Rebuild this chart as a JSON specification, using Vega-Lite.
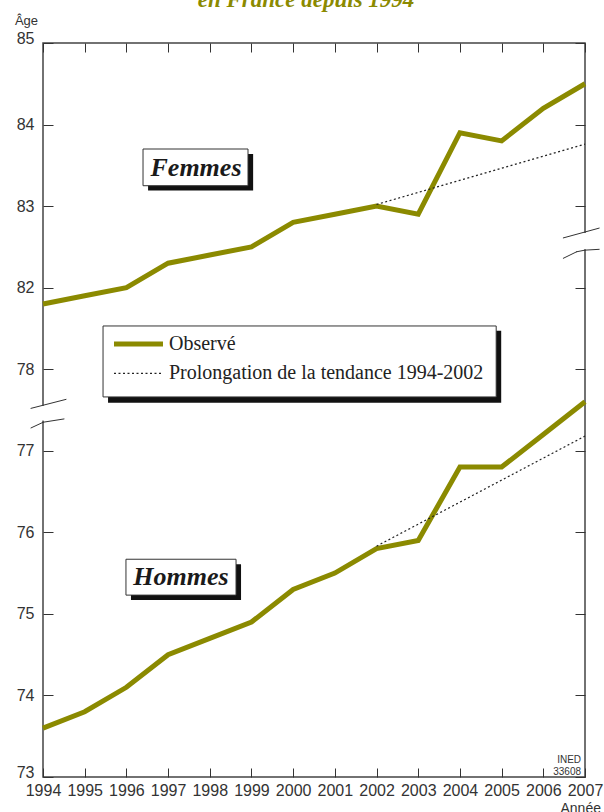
{
  "$schema": "https://vega.github.io/schema/vega-lite/v6.json",
  "width": 542,
  "height": 734,
  "autosize": {"type": "none"},
  "padding": {"left": 43, "top": 43, "right": 19, "bottom": 35},
  "background": "white",
  "config": {
    "view": {"stroke": "#444", "strokeWidth": 1.5},
    "axis": {"grid": false, "domain": false, "tickColor": "#333", "tickWidth": 1, "labelColor": "#333", "labelFont": "Liberation Sans", "labelFontSize": 16, "labelOverlap": false, "labelFlush": false, "titleColor": "#333", "titleFont": "Liberation Sans", "titleFontWeight": "normal"}
  },
  "datasets": {
    "obs": [
      {"annee": 1994, "sexe": "Femmes", "age": 81.8},
      {"annee": 1995, "sexe": "Femmes", "age": 81.9},
      {"annee": 1996, "sexe": "Femmes", "age": 82.0},
      {"annee": 1997, "sexe": "Femmes", "age": 82.3},
      {"annee": 1998, "sexe": "Femmes", "age": 82.4},
      {"annee": 1999, "sexe": "Femmes", "age": 82.5},
      {"annee": 2000, "sexe": "Femmes", "age": 82.8},
      {"annee": 2001, "sexe": "Femmes", "age": 82.9},
      {"annee": 2002, "sexe": "Femmes", "age": 83.0},
      {"annee": 2003, "sexe": "Femmes", "age": 82.9},
      {"annee": 2004, "sexe": "Femmes", "age": 83.9},
      {"annee": 2005, "sexe": "Femmes", "age": 83.8},
      {"annee": 2006, "sexe": "Femmes", "age": 84.2},
      {"annee": 2007, "sexe": "Femmes", "age": 84.5},
      {"annee": 1994, "sexe": "Hommes", "age": 73.6},
      {"annee": 1995, "sexe": "Hommes", "age": 73.8},
      {"annee": 1996, "sexe": "Hommes", "age": 74.1},
      {"annee": 1997, "sexe": "Hommes", "age": 74.5},
      {"annee": 1998, "sexe": "Hommes", "age": 74.7},
      {"annee": 1999, "sexe": "Hommes", "age": 74.9},
      {"annee": 2000, "sexe": "Hommes", "age": 75.3},
      {"annee": 2001, "sexe": "Hommes", "age": 75.5},
      {"annee": 2002, "sexe": "Hommes", "age": 75.8},
      {"annee": 2003, "sexe": "Hommes", "age": 75.9},
      {"annee": 2004, "sexe": "Hommes", "age": 76.8},
      {"annee": 2005, "sexe": "Hommes", "age": 76.8},
      {"annee": 2006, "sexe": "Hommes", "age": 77.2},
      {"annee": 2007, "sexe": "Hommes", "age": 77.6}
    ],
    "trend": [
      {"annee": 2002, "sexe": "Femmes", "age": 83.02},
      {"annee": 2007, "sexe": "Femmes", "age": 83.76},
      {"annee": 2002, "sexe": "Hommes", "age": 75.83},
      {"annee": 2007, "sexe": "Hommes", "age": 77.18}
    ]
  },
  "layer": [
    {
      "data": {"name": "obs"},
      "mark": {"type": "line", "color": "#8b8a00", "strokeWidth": 5, "clip": false},
      "encoding": {
        "x": {"field": "annee", "type": "quantitative",
          "scale": {"type": "linear", "domain": [1994, 2007], "nice": false, "zero": false},
          "axis": {"orient": "bottom", "values": [1994,1995,1996,1997,1998,1999,2000,2001,2002,2003,2004,2005,2006,2007], "format": "d", "tickSize": -9, "labelPadding": 14,
            "title": "Année", "titleFontSize": 14, "titleAlign": "left", "titleBaseline": "top", "titleX": 517, "titleY": 24}},
        "y": {"field": "age", "type": "quantitative",
          "scale": {"type": "linear", "domain": [73, 78, 81, 85], "range": [734, 326.2, 326.2, 0], "nice": false, "zero": false},
          "axis": {"orient": "left", "values": [73,74,75,76,77,78,82,83,84,85], "tickSize": -10, "labelPadding": 19,
            "labelBaseline": {"condition": {"test": "datum.value == 73 || datum.value == 85", "value": "alphabetic"}, "value": "middle"},
            "title": "Âge", "titleFontSize": 13, "titleAngle": 0, "titleAlign": "center", "titleBaseline": "alphabetic", "titleX": -17, "titleY": -19}},
        "detail": {"field": "sexe"}
      }
    },
    {
      "data": {"name": "trend"},
      "mark": {"type": "line", "color": "#222", "strokeWidth": 1.2, "strokeDash": [2, 2.5], "clip": false},
      "encoding": {
        "x": {"field": "annee", "type": "quantitative",
          "scale": {"type": "linear", "domain": [1994, 2007], "nice": false, "zero": false},
          "axis": {"orient": "top", "values": [1994,1995,1996,1997,1998,1999,2000,2001,2002,2003,2004,2005,2006,2007], "labels": false, "tickSize": -9, "title": null}},
        "y": {"field": "age", "type": "quantitative",
          "scale": {"type": "linear", "domain": [73, 78, 81, 85], "range": [734, 326.2, 326.2, 0], "nice": false, "zero": false},
          "axis": {"orient": "right", "values": [73,74,75,76,77,78,82,83,84,85], "labels": false, "tickSize": -10, "title": null}},
        "detail": {"field": "sexe"}
      }
    },
    {
      "data": {"values": [{}]},
      "mark": {"type": "rect", "color": "white", "clip": false},
      "encoding": {"x": {"datum": 1993.95, "type": "quantitative", "axis": null}, "x2": {"datum": 1994.07}, "y": {"datum": 77.37, "type": "quantitative", "axis": null}, "y2": {"datum": 77.55}}
    },
    {
      "data": {"values": [{}]},
      "mark": {"type": "rect", "color": "white", "clip": false},
      "encoding": {"x": {"datum": 2006.95, "type": "quantitative", "axis": null}, "x2": {"datum": 2007.07}, "y": {"datum": 82.47, "type": "quantitative", "axis": null}, "y2": {"datum": 82.67}}
    },
    {
      "data": {"values": [{}]},
      "mark": {"type": "rule", "color": "#333", "strokeWidth": 1, "strokeCap": "round", "clip": false},
      "encoding": {"x": {"datum": 1993.712, "type": "quantitative", "axis": null}, "x2": {"datum": 1994.552}, "y": {"datum": 77.52, "type": "quantitative", "axis": null}, "y2": {"datum": 77.63}}
    },
    {
      "data": {"values": [{}]},
      "mark": {"type": "rule", "color": "#333", "strokeWidth": 1, "strokeCap": "round", "clip": false},
      "encoding": {"x": {"datum": 1993.712, "type": "quantitative", "axis": null}, "x2": {"datum": 1994.007}, "y": {"datum": 77.28, "type": "quantitative", "axis": null}, "y2": {"datum": 77.35}}
    },
    {
      "data": {"values": [{}]},
      "mark": {"type": "rule", "color": "#333", "strokeWidth": 1, "strokeCap": "round", "clip": false},
      "encoding": {"x": {"datum": 1994.007, "type": "quantitative", "axis": null}, "x2": {"datum": 1994.504}, "y": {"datum": 77.35, "type": "quantitative", "axis": null}, "y2": {"datum": 77.39}}
    },
    {
      "data": {"values": [{}]},
      "mark": {"type": "rule", "color": "#333", "strokeWidth": 1, "strokeCap": "round", "clip": false},
      "encoding": {"x": {"datum": 2006.48, "type": "quantitative", "axis": null}, "x2": {"datum": 2007.34}, "y": {"datum": 82.61, "type": "quantitative", "axis": null}, "y2": {"datum": 82.73}}
    },
    {
      "data": {"values": [{}]},
      "mark": {"type": "rule", "color": "#333", "strokeWidth": 1, "strokeCap": "round", "clip": false},
      "encoding": {"x": {"datum": 2006.48, "type": "quantitative", "axis": null}, "x2": {"datum": 2006.8}, "y": {"datum": 82.36, "type": "quantitative", "axis": null}, "y2": {"datum": 82.44}}
    },
    {
      "data": {"values": [{}]},
      "mark": {"type": "rule", "color": "#333", "strokeWidth": 1, "strokeCap": "round", "clip": false},
      "encoding": {"x": {"datum": 2006.8, "type": "quantitative", "axis": null}, "x2": {"datum": 2007.0}, "y": {"datum": 82.44, "type": "quantitative", "axis": null}, "y2": {"datum": 82.46}}
    },
    {
      "data": {"values": [{}]},
      "mark": {"type": "rule", "color": "#333", "strokeWidth": 1, "strokeCap": "round", "clip": false},
      "encoding": {"x": {"datum": 2007.0, "type": "quantitative", "axis": null}, "x2": {"datum": 2007.34}, "y": {"datum": 82.46, "type": "quantitative", "axis": null}, "y2": {"datum": 82.47}}
    },
    {
      "data": {"values": [{}]},
      "mark": {"type": "rect", "color": "#111", "clip": false},
      "encoding": {"x": {"datum": 1995.56, "type": "quantitative", "axis": null}, "x2": {"datum": 2004.99}, "y": {"datum": 81.47, "type": "quantitative", "axis": null}, "y2": {"datum": 77.59}}
    },
    {
      "data": {"values": [{}]},
      "mark": {"type": "rect", "fill": "white", "stroke": "#333", "strokeWidth": 1, "clip": false},
      "encoding": {"x": {"datum": 1995.44, "type": "quantitative", "axis": null}, "x2": {"datum": 2004.87}, "y": {"datum": 81.53, "type": "quantitative", "axis": null}, "y2": {"datum": 77.66}}
    },
    {
      "data": {"values": [{}]},
      "mark": {"type": "rule", "color": "#8b8a00", "strokeWidth": 5, "clip": false},
      "encoding": {"x": {"datum": 1995.703, "type": "quantitative", "axis": null}, "x2": {"datum": 1996.878}, "y": {"datum": 81.31, "type": "quantitative", "axis": null}}
    },
    {
      "data": {"values": [{}]},
      "mark": {"type": "rule", "color": "#222", "strokeWidth": 1.2, "strokeDash": [2, 2.5], "clip": false},
      "encoding": {"x": {"datum": 1995.703, "type": "quantitative", "axis": null}, "x2": {"datum": 1996.878}, "y": {"datum": 77.95, "type": "quantitative", "axis": null}}
    },
    {
      "data": {"values": [{}]},
      "mark": {"type": "text", "text": "Observé", "font": "Liberation Serif", "fontSize": 20, "color": "#222", "align": "left", "baseline": "middle", "clip": false},
      "encoding": {"x": {"datum": 1997.022, "type": "quantitative", "axis": null}, "y": {"datum": 81.31, "type": "quantitative", "axis": null}}
    },
    {
      "data": {"values": [{}]},
      "mark": {"type": "text", "text": "Prolongation de la tendance 1994-2002", "font": "Liberation Serif", "fontSize": 20, "color": "#222", "align": "left", "baseline": "middle", "clip": false},
      "encoding": {"x": {"datum": 1997.022, "type": "quantitative", "axis": null}, "y": {"datum": 77.95, "type": "quantitative", "axis": null}}
    },
    {
      "data": {"values": [{}]},
      "mark": {"type": "rect", "color": "#111", "clip": false},
      "encoding": {"x": {"datum": 1996.52, "type": "quantitative", "axis": null}, "x2": {"datum": 1999.04}, "y": {"datum": 83.64, "type": "quantitative", "axis": null}, "y2": {"datum": 83.19}}
    },
    {
      "data": {"values": [{}]},
      "mark": {"type": "rect", "fill": "white", "stroke": "#333", "strokeWidth": 1, "clip": false},
      "encoding": {"x": {"datum": 1996.399, "type": "quantitative", "axis": null}, "x2": {"datum": 1998.917}, "y": {"datum": 83.7, "type": "quantitative", "axis": null}, "y2": {"datum": 83.25}}
    },
    {
      "data": {"values": [{}]},
      "mark": {"type": "text", "text": "Femmes", "font": "Liberation Serif", "fontSize": 26, "fontWeight": "bold", "fontStyle": "italic", "color": "#1a1a1a", "align": "center", "baseline": "middle", "clip": false},
      "encoding": {"x": {"datum": 1997.67, "type": "quantitative", "axis": null}, "y": {"datum": 83.47, "type": "quantitative", "axis": null}}
    },
    {
      "data": {"values": [{}]},
      "mark": {"type": "rect", "color": "#111", "clip": false},
      "encoding": {"x": {"datum": 1996.11, "type": "quantitative", "axis": null}, "x2": {"datum": 1998.75}, "y": {"datum": 75.61, "type": "quantitative", "axis": null}, "y2": {"datum": 75.17}}
    },
    {
      "data": {"values": [{}]},
      "mark": {"type": "rect", "fill": "white", "stroke": "#333", "strokeWidth": 1, "clip": false},
      "encoding": {"x": {"datum": 1995.99, "type": "quantitative", "axis": null}, "x2": {"datum": 1998.63}, "y": {"datum": 75.67, "type": "quantitative", "axis": null}, "y2": {"datum": 75.23}}
    },
    {
      "data": {"values": [{}]},
      "mark": {"type": "text", "text": "Hommes", "font": "Liberation Serif", "fontSize": 26, "fontWeight": "bold", "fontStyle": "italic", "color": "#1a1a1a", "align": "center", "baseline": "middle", "clip": false},
      "encoding": {"x": {"datum": 1997.31, "type": "quantitative", "axis": null}, "y": {"datum": 75.45, "type": "quantitative", "axis": null}}
    },
    {
      "data": {"values": [{}]},
      "mark": {"type": "text", "text": "INED", "font": "Liberation Sans", "fontSize": 10, "color": "#333", "align": "right", "baseline": "alphabetic", "clip": false},
      "encoding": {"x": {"datum": 2006.905, "type": "quantitative", "axis": null}, "y": {"datum": 73.171, "type": "quantitative", "axis": null}}
    },
    {
      "data": {"values": [{}]},
      "mark": {"type": "text", "text": "33608", "font": "Liberation Sans", "fontSize": 10, "color": "#333", "align": "right", "baseline": "alphabetic", "clip": false},
      "encoding": {"x": {"datum": 2006.905, "type": "quantitative", "axis": null}, "y": {"datum": 73.024, "type": "quantitative", "axis": null}}
    },
    {
      "data": {"values": [{}]},
      "mark": {"type": "text", "text": "en France depuis 1994", "font": "Liberation Serif", "fontSize": 23, "fontWeight": "bold", "fontStyle": "italic", "color": "#8b8a00", "align": "center", "baseline": "alphabetic", "clip": false},
      "encoding": {"x": {"datum": 2000.31, "type": "quantitative", "axis": null}, "y": {"datum": 85.44, "type": "quantitative", "axis": null}}
    }
  ],
  "resolve": {"axis": {"x": "independent", "y": "independent"}}
}
